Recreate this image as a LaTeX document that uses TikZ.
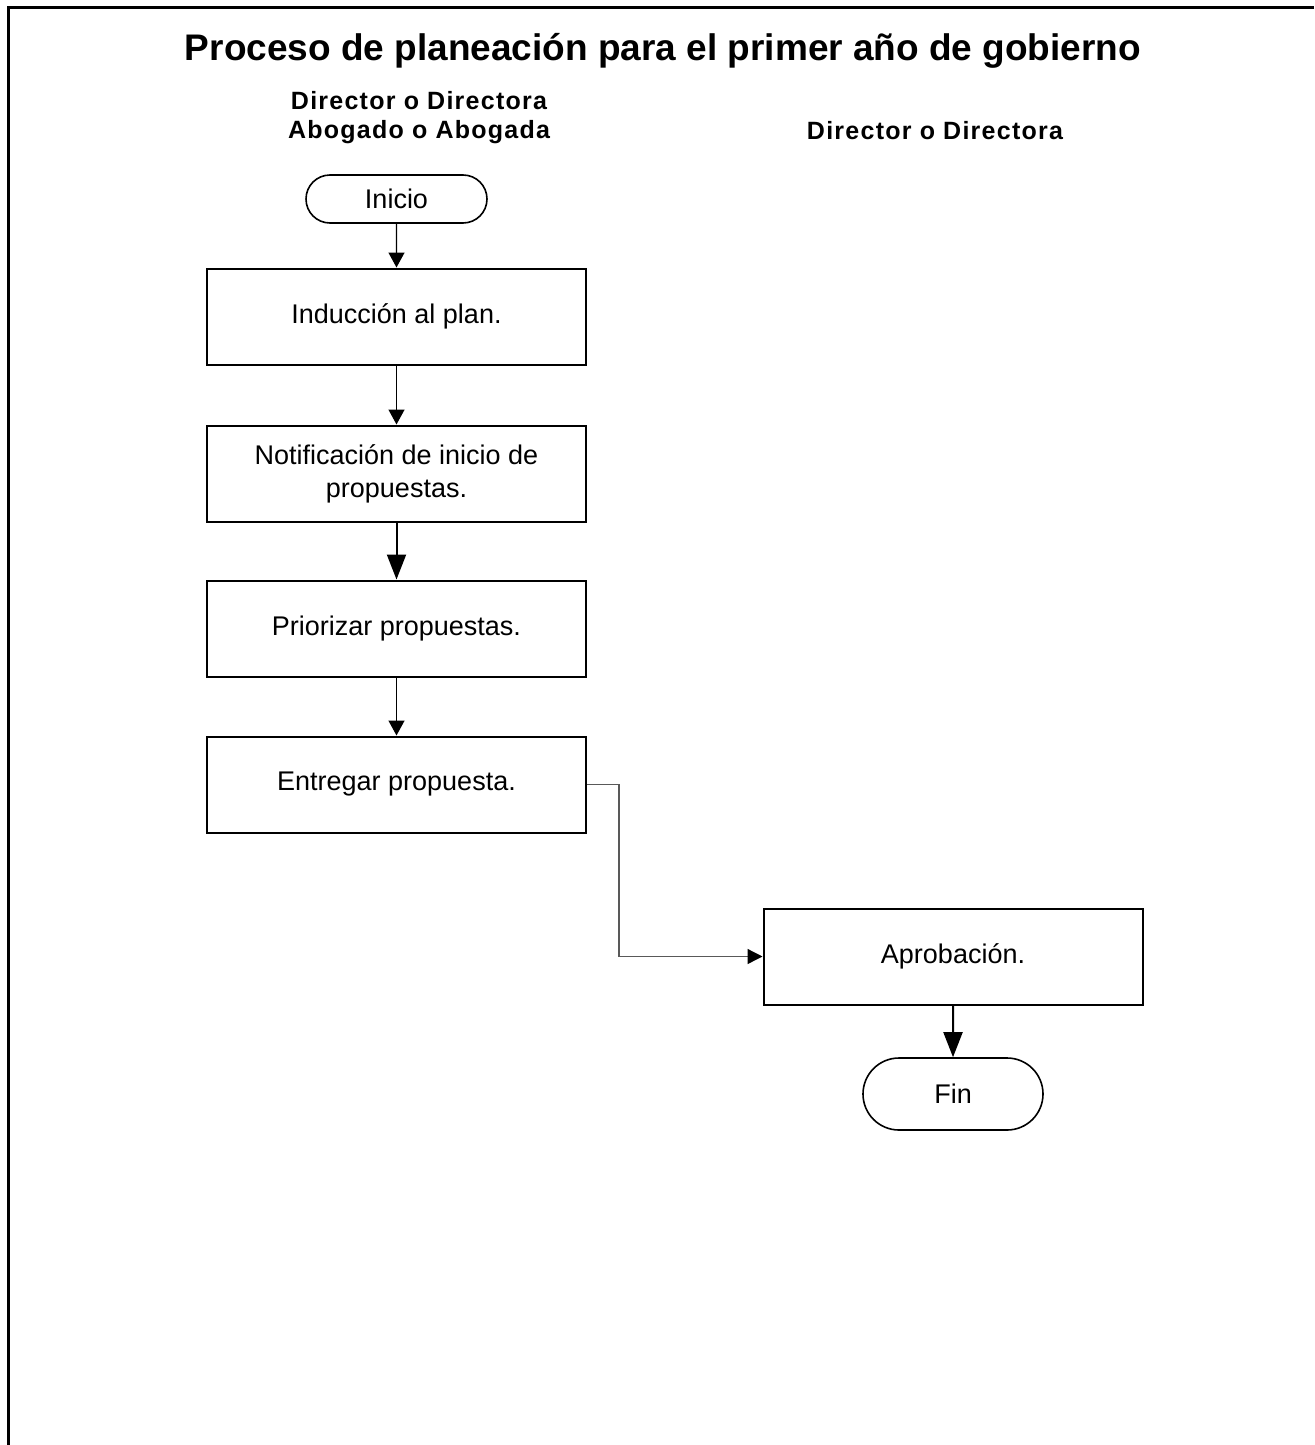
\documentclass[tikz,border=0pt]{standalone}
\usepackage{fontspec}
\setmainfont{Liberation Sans}
\newfontfamily\hdrfont[LetterSpace=5]{Liberation Sans}
\usetikzlibrary{arrows.meta,shapes.misc}
\tikzset{
  proc/.style={draw, line width=2pt, minimum width=379pt, minimum height=96pt, inner sep=0pt, align=center, font=\fontsize{27}{33}\selectfont},
  term/.style={draw, line width=1.6pt, rounded rectangle, minimum width=181pt, inner sep=0pt, font=\fontsize{27}{30}\selectfont},
  smallarr/.style={line width=1.4pt, -{Triangle[width=16pt,length=15pt]}},
  bigarr/.style={line width=2pt, -{Triangle[width=19pt,length=25pt]}},
  greyarr/.style={line width=1.3pt, draw=black!65, -{Triangle[width=15pt,length=15pt,fill=black,color=black]}},
  hdr/.style={font=\hdrfont\bfseries\fontsize{25}{29}\selectfont, align=center, inner sep=0pt},
}
\begin{document}
\begin{tikzpicture}[x=1pt,y=-1pt]
\useasboundingbox (0,0) rectangle (1314,1445);
\draw[line width=2.6pt] (1314,7.5) -- (8.5,7.5) -- (8.5,1445);
\node[font=\bfseries\fontsize{37}{40}\selectfont, inner sep=0pt] (title) at (663,51) {Proceso de planeación para el primer año de gobierno};
\node[hdr] (h1) at (419,118) {Director o Directora\\Abogado o Abogada};
\node[hdr] (h2) at (935,131) {Director o Directora};
\node[term, minimum height=48pt] (ini) at (396.5,199) {Inicio};
\node[proc] (b1) at (396.5,316.5) {Inducción al plan.};
\node[proc] (b2) at (396.5,473.5) {Notificación de inicio de\\propuestas.};
\node[proc] (b3) at (396.5,628.5) {Priorizar propuestas.};
\node[proc] (b4) at (396.5,784.5) {Entregar propuesta.};
\node[proc] (apro) at (953,956.5) {Aprobación.};
\node[term, minimum height=72pt, minimum width=180pt] (fin) at (953,1094) {Fin};
\draw[smallarr] (ini) -- (b1);
\draw[smallarr] (b1) -- (b2);
\draw[bigarr] (b2) -- (b3);
\draw[smallarr] (b3) -- (b4);
\draw[greyarr] (b4.east) -- ++(32,0) |- (apro.west);
\draw[bigarr] (apro) -- (fin);
\end{tikzpicture}
\end{document}
